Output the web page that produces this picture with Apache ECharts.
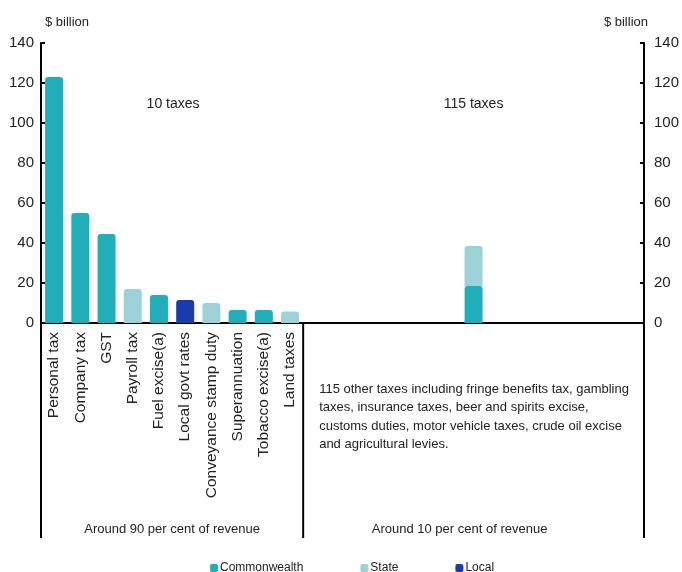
<!DOCTYPE html>
<html>
<head>
<meta charset="utf-8">
<script src="https://cdn.jsdelivr.net/npm/echarts@6/dist/echarts.min.js"></script>
<style>
  html, body {margin: 0; padding: 0; background: #fff;}
  #chart {width: 682px; height: 572px;}
</style>
</head>
<body>
<div id="chart"></div>
<script>
// taxes, left block is the 10 big ones, right block is the 115 others (one stacked bar)
const categories = [
  'Personal tax', 'Company tax', 'GST', 'Payroll tax', 'Fuel excise(a)',
  'Local govt rates', 'Conveyance stamp duty', 'Superannuation', 'Tobacco excise(a)', 'Land taxes',
  '', '', '', '', '', '', '', '', '', '', '', '', ''
]
const commonwealth = [123, 55, 44.5, null, 14, null, null, 6.5, 6.5, null,
  null, null, null, null, null, null, 18.5, null, null, null, null, null, null]
const state = [null, null, null, 17, null, null, 10, null, null, 5.7,
  null, null, null, null, null, null, 20, null, null, null, null, null, null]
const local = [null, null, null, null, null, 11.5, null, null, null, null,
  null, null, null, null, null, null, null, null, null, null, null, null, null]
const yTicks = [0, 20, 40, 60, 80, 100, 120, 140]

const font = 'Liberation Sans, Arial, sans-serif'
const ink = '#222'
const colors = {Commonwealth: '#20aebb', State: '#9dd2d8', Local: '#1b3aae'}

const chart = echarts.init(document.getElementById('chart'))

const yAxisBase = function (pos) {
  return {
    type: 'value',
    position: pos,
    min: yTicks[0],
    max: yTicks[yTicks.length - 1],
    interval: 20,
    name: '$ billion',
    nameLocation: 'end',
    nameGap: 14,
    nameTextStyle: {
      color: ink, fontFamily: font, fontSize: 13,
      align: pos == 'left' ? 'left' : 'right',
      padding: pos == 'left' ? [0, 0, 0, 4] : [0, -4, 0, 0],
    },
    axisLine: {show: true, lineStyle: {color: '#000', width: 2}},
    axisTick: {show: true, inside: true, length: 4, lineStyle: {color: '#000', width: 2}},
    axisLabel: {color: ink, fontFamily: font, fontSize: 15, margin: pos == 'left' ? 7 : 10},
    splitLine: {show: false},
  }
}

const barSeries = function (name, data) {
  return {
    name: name,
    type: 'bar',
    stack: 'all',
    data: data,
    barWidth: 18,
    itemStyle: {color: colors[name], borderRadius: [3, 3, 0, 0]},
  }
}

chart.setOption({
  animation: false,
  grid: {left: 41, right: 36, top: 43, bottom: 249},
  legend: {
    left: 205,
    top: 557,
    itemWidth: 8,
    itemHeight: 8,
    itemGap: 57,
    icon: 'roundRect',
    textStyle: {color: ink, fontFamily: font, fontSize: 12, padding: [0, 0, 0, -3]},
    data: ['Commonwealth', 'State', 'Local'],
  },
  xAxis: {
    type: 'category',
    data: categories,
    axisLine: {show: true, lineStyle: {color: '#000', width: 2}},
    axisTick: {show: false},
    axisLabel: {
      rotate: 90, interval: 0, margin: 9,
      color: ink, fontFamily: font, fontSize: 15.5,
    },
  },
  yAxis: [yAxisBase('left'), yAxisBase('right')],
  series: [
    barSeries('Commonwealth', commonwealth),
    barSeries('State', state),
    barSeries('Local', local),
  ],
})

// frame lines under the axis + block annotations, placed from the axis scales
const x0 = chart.convertToPixel({xAxisIndex: 0}, 0)
const x1 = chart.convertToPixel({xAxisIndex: 0}, 1)
const band = x1 - x0
const leftX = x0 - band / 2
const divX = leftX + band * 10
const rightX = leftX + band * categories.length
const zeroY = chart.convertToPixel({yAxisIndex: 0}, 0)
const lowY = 538

const vline = (x) => ({
  type: 'line',
  shape: {x1: x, y1: zeroY, x2: x, y2: lowY},
  style: {stroke: '#000', lineWidth: 2},
})
const txt = (x, y, text, opts) => ({
  type: 'text',
  x: x, y: y,
  style: Object.assign({
    text: text, fill: ink, font: '14px ' + font,
    align: 'center', verticalAlign: 'middle',
  }, opts || {}),
})

chart.setOption({
  graphic: [
    vline(leftX), vline(divX), vline(rightX),
    txt((leftX + divX) / 2 + 1, 104, '10 taxes'),
    txt(chart.convertToPixel({xAxisIndex: 0}, 16), 104, '115 taxes'),
    txt((leftX + divX) / 2, 529, 'Around 90 per cent of revenue', {font: '13px ' + font}),
    txt((divX + rightX) / 2 - 14, 529, 'Around 10 per cent of revenue', {font: '13px ' + font}),
    txt(divX + 16, 380, '115 other taxes including fringe benefits tax, gambling\n' +
      'taxes, insurance taxes, beer and spirits excise,\n' +
      'customs duties, motor vehicle taxes, crude oil excise\n' +
      'and agricultural levies.', {
      font: '13px ' + font, align: 'left', verticalAlign: 'top', lineHeight: 18.5,
    }),
  ],
})
</script>
</body>
</html>
